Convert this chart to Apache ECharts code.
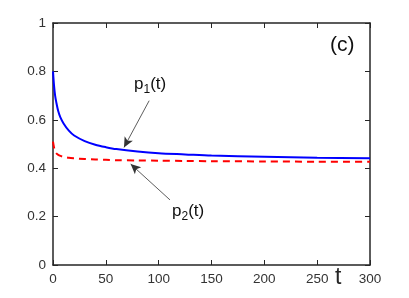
<!DOCTYPE html>
<html><head><meta charset="utf-8">
<script src="https://cdn.jsdelivr.net/npm/echarts@6/dist/echarts.min.js"></script>
<style>html,body{margin:0;padding:0;background:#fff}#c{width:409px;height:298px}</style>
</head><body><div id="c"></div>
<script>
const tValues = [0,1,2,3,5,7,10,15,20,30,40,50,60,80,100,125,150,200,250,300];
const p1Values = [0.80,0.74,0.70,0.675,0.635,0.61,0.585,0.555,0.535,0.512,0.497,0.487,0.479,0.469,0.462,0.457,0.452,0.447,0.443,0.441];
const p2Values = [0.51,0.485,0.47,0.462,0.455,0.451,0.447,0.443,0.441,0.438,0.436,0.435,0.433,0.432,0.431,0.430,0.429,0.428,0.427,0.427];
const xTicks = [0,50,100,150,200,250,300];
const yTicks = [0,0.2,0.4,0.6,0.8,1];
const arrow1 = [[91,0.679],[67.2,0.486]];
const arrow2 = [[110.7,0.269],[73.5,0.417]];

const font = 'Liberation Sans, Arial, sans-serif';
function axisCommon(){ return {
  axisLine:{show:true,onZero:false,lineStyle:{color:'#262626',width:1.5}},
  axisTick:{show:true,inside:true,length:5,lineStyle:{color:'#262626',width:1}},
  splitLine:{show:false}
};}
const chart = echarts.init(document.getElementById('c'));
chart.setOption({
  animation:false,
  grid:{left:53,right:39,top:23,bottom:33},
  xAxis:[
    Object.assign({type:'value',min:0,max:300,interval:50,position:'bottom',
      axisLabel:{color:'#333',fontSize:13.5,fontFamily:font,margin:7,
        formatter:v=>xTicks.includes(v)?String(v):''}},axisCommon()),
    Object.assign({type:'value',min:0,max:300,interval:50,position:'top',axisLabel:{show:false}},axisCommon())
  ],
  yAxis:[
    Object.assign({type:'value',min:0,max:1,interval:0.2,position:'left',
      axisLabel:{color:'#333',fontSize:13.5,fontFamily:font,margin:7,
        formatter:v=>{const f=yTicks.find(y=>Math.abs(y-v)<1e-9);return f===undefined?'':String(f);}}},axisCommon()),
    Object.assign({type:'value',min:0,max:1,interval:0.2,position:'right',axisLabel:{show:false}},axisCommon())
  ],
  series:[
    {type:'line',name:'p1',data:tValues.map((t,i)=>[t,p1Values[i]]),showSymbol:false,smooth:0.3,
     lineStyle:{color:'#0000ff',width:2},
     markLine:{silent:true,symbol:['none','arrow'],symbolSize:[7,10],
       lineStyle:{color:'#333',width:0.8,type:'solid'},label:{show:false},
       data:[[{coord:arrow1[0]},{coord:arrow1[1]}]]}},
    {type:'line',name:'p2',data:tValues.map((t,i)=>[t,p2Values[i]]),showSymbol:false,smooth:0.3,
     lineStyle:{color:'#ff0000',width:2,type:[7,5]},
     markLine:{silent:true,symbol:['none','arrow'],symbolSize:[7,10],
       lineStyle:{color:'#333',width:0.8,type:'solid'},label:{show:false},
       data:[[{coord:arrow2[0]},{coord:arrow2[1]}]]}}
  ],
  graphic:[
    {type:'text',left:134,top:76,style:{text:'p{s|1}(t)',fill:'#111',font:'17px '+font,
      rich:{s:{fontSize:12,fontFamily:font,padding:[11,0,0,0],fill:'#111'}}}},
    {type:'text',left:172,top:203,style:{text:'p{s|2}(t)',fill:'#111',font:'17px '+font,
      rich:{s:{fontSize:12,fontFamily:font,padding:[11,0,0,0],fill:'#111'}}}},
    {type:'text',left:330,top:35,style:{text:'(c)',fill:'#111',font:'21px '+font}},
    {type:'text',left:335,top:266,style:{text:'t',fill:'#262626',font:'23px '+font}}
  ]
});
</script></body></html>
